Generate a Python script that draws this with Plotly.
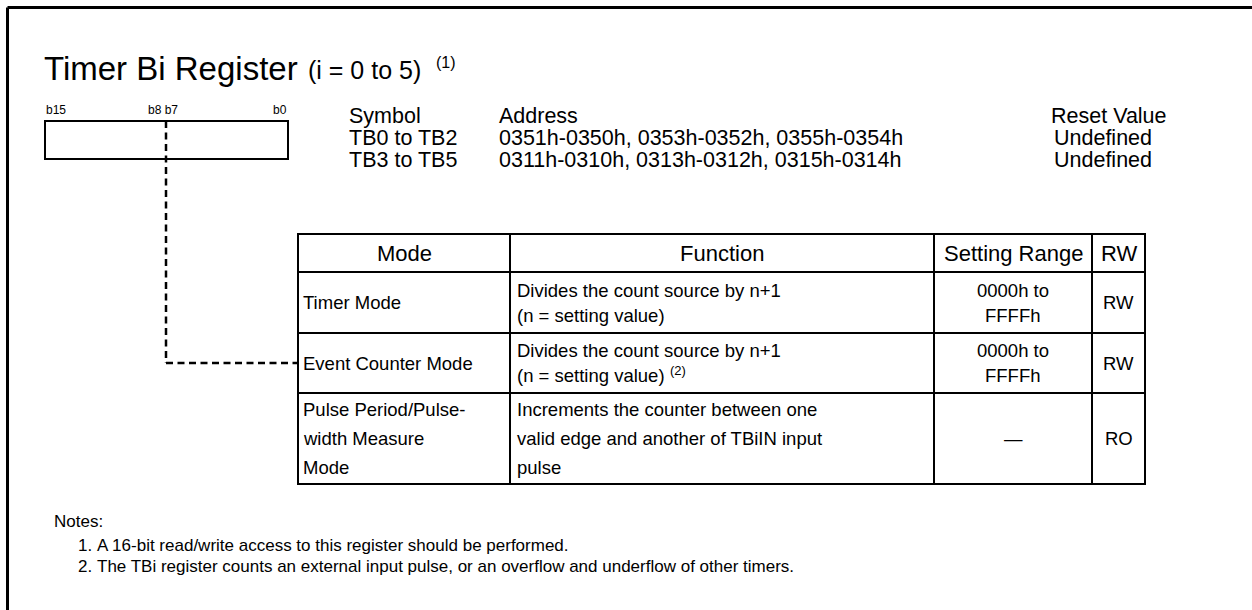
import plotly.graph_objects as go

# ---------------- data (text content) ----------------
title_main = "Timer Bi Register"
title_sub = "(i = 0 to 5)"
title_ref = "(1)"
bit_labels = ["b15", "b8 b7", "b0"]
symbol_header = ["Symbol", "Address", "Reset Value"]
symbols = ["TB0 to TB2", "TB3 to TB5"]
addresses = ["0351h-0350h, 0353h-0352h, 0355h-0354h",
             "0311h-0310h, 0313h-0312h, 0315h-0314h"]
reset_values = ["Undefined", "Undefined"]
table_header = ["Mode", "Function", "Setting Range", "RW"]
modes = [["Timer Mode"], ["Event Counter Mode"],
         ["Pulse Period/Pulse-", "width Measure", "Mode"]]
functions = [["Divides the count source by n+1", "(n = setting value)"],
             ["Divides the count source by n+1", "(n = setting value)"],
             ["Increments the counter between one",
              "valid edge and another of TBiIN input", "pulse"]]
function_refs = ["", "(2)", ""]
setting_ranges = [["0000h to", "FFFFh"], ["0000h to", "FFFFh"], ["\u2014"]]
access = ["RW", "RW", "RO"]
notes_title = "Notes:"
notes = ["A 16-bit read/write access to this register should be performed.",
         "The TBi register counts an external input pulse, or an overflow and underflow of other timers."]

# ---------------- layout constants ----------------
W, H = 1252, 610
FONT = "Liberation Sans, Arial, sans-serif"
BLACK = "#000000"
col_x = [298, 510, 934, 1092, 1145]
row_y = [234, 272, 333, 393, 484]

fig = go.Figure()

shapes = []
annos = []


def text(x, y, s, size, xanchor="left", yanchor="middle"):
    annos.append(dict(x=x, y=y, xref="x", yref="y", text=s, showarrow=False,
                      xanchor=xanchor, yanchor=yanchor,
                      font=dict(family=FONT, size=size, color=BLACK)))


def line(x0, y0, x1, y1, width=2, dash=None):
    d = dict(type="line", x0=x0, y0=y0, x1=x1, y1=y1, xref="x", yref="y",
             line=dict(color=BLACK, width=width))
    if dash:
        d["line"]["dash"] = dash
    shapes.append(d)


# outer frame (right/bottom edges fall outside the picture)
line(7.5, 7.5, W + 10, 7.5, width=3)
line(7.5, 7.5, 7.5, H + 10, width=3)

# title
text(42, 68, title_main, 33)
text(306, 70, title_sub, 25)
text(434, 62, title_ref, 16)

# register box
shapes.append(dict(type="rect", x0=45, y0=121, x1=288, y1=159, xref="x", yref="y",
                   line=dict(color=BLACK, width=2)))
text(44, 110, bit_labels[0], 12, "left")
text(146, 110, bit_labels[1], 12, "left")
text(289, 110, bit_labels[2], 12, "right")

# dashed leader
line(166, 121, 166, 363, width=2.5, dash="7px,4.5px")
line(166, 363, col_x[0], 363, width=2.5, dash="7px,4.5px")

# symbol / address block
SYM = 21.5
sym_y = [116, 138, 160]
text(347, sym_y[0], symbol_header[0], SYM)
text(497, sym_y[0], symbol_header[1], SYM)
text(1169, sym_y[0], symbol_header[2], SYM, "right")
for i in range(2):
    text(347, sym_y[i + 1], symbols[i], SYM)
    text(497, sym_y[i + 1], addresses[i], SYM)
    text(1103, sym_y[i + 1], reset_values[i], SYM, "center")

# table grid
for x in col_x:
    line(x, row_y[0] - 1, x, row_y[-1] + 1)
for y in row_y:
    line(col_x[0] - 1, y, col_x[-1] + 1, y)

# header
for j, h in enumerate(table_header):
    text((col_x[j] + col_x[j + 1]) / 2, (row_y[0] + row_y[1]) / 2, h, 22, "center")

BODY = 18.5
for r in range(3):
    top, bot = row_y[r + 1], row_y[r + 2]
    mid = (top + bot) / 2
    step = 25 if r < 2 else 29

    def ys(n):
        return [mid + (k - (n - 1) / 2) * step for k in range(n)]

    for k, y in enumerate(ys(len(modes[r]))):
        text(col_x[0] + 3, y, modes[r][k], BODY)
    fy = ys(len(functions[r]))
    for k, y in enumerate(fy):
        text(col_x[1] + 5, y, functions[r][k], BODY)
    if function_refs[r]:
        text(col_x[1] + 158, fy[-1] - 5, function_refs[r], 13)
    for k, y in enumerate(ys(len(setting_ranges[r]))):
        text((col_x[2] + col_x[3]) / 2, y, setting_ranges[r][k], BODY, "center")
    text((col_x[3] + col_x[4]) / 2, mid, access[r], BODY, "center")

# notes
NOTE = 17
text(52, 521, notes_title, NOTE)
for i, n in enumerate(notes):
    y = 545 + i * 21
    text(76, y, f"{i + 1}.", NOTE)
    text(95, y, n, NOTE)

fig.update_layout(
    width=W, height=H,
    margin=dict(l=0, r=0, t=0, b=0),
    paper_bgcolor="white", plot_bgcolor="white",
    xaxis=dict(range=[0, W], visible=False, fixedrange=True),
    yaxis=dict(range=[H, 0], visible=False, fixedrange=True),
    shapes=shapes, annotations=annos, showlegend=False,
)
fig.write_html("out.html", config={"displayModeBar": False},
               post_script="document.body.style.margin='0';")
